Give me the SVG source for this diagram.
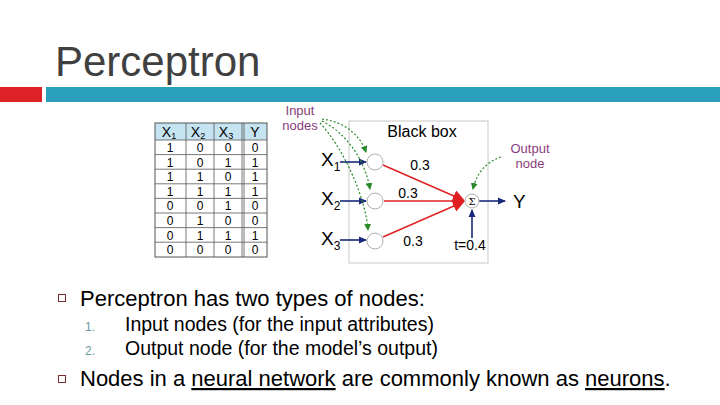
<svg xmlns="http://www.w3.org/2000/svg" width="720" height="405" viewBox="0 0 720 405">
<style>
.t{font-family:"Liberation Sans",Arial,sans-serif}
.title{font-size:42px;fill:#404040}
.cell{font-size:12px;fill:#000;text-anchor:middle}
.hdr{font-size:14px;fill:#000;text-anchor:middle}
.lbl{font-size:19px;fill:#000}
.w{font-size:14px;fill:#000;text-anchor:middle}
.purple{font-size:13px;fill:#8a3c7c;text-anchor:middle}
.body{font-size:22px;fill:#000}
.sub{font-size:19.5px;fill:#000}
.num{font-size:12px;fill:#6a9aa4}
.node{fill:#fff;stroke:#b0b0b0;stroke-width:1}
.blue{stroke:#1a2a7a;stroke-width:1.6;fill:none}
.red{stroke:#e02020;stroke-width:1.4;fill:none}
.green{stroke:#2a8a2a;stroke-width:1.2;fill:none;stroke-dasharray:2 2}
.grid{stroke:#555;stroke-width:0.8}
.bullet{fill:none;stroke:#7a3030;stroke-width:1}
</style>
<defs>
<marker id="ab" markerWidth="8" markerHeight="8" refX="7" refY="4" orient="auto" markerUnits="userSpaceOnUse"><path d="M0,0.5 L8,4 L0,7.5 Z" fill="#1a2a7a"/></marker>
<marker id="ag" markerWidth="7" markerHeight="7" refX="6" refY="3.5" orient="auto" markerUnits="userSpaceOnUse"><path d="M0,0 L7,3.5 L0,7 Z" fill="#2a8a2a"/></marker>
<marker id="ar" markerWidth="12" markerHeight="12" refX="10" refY="6" orient="auto" markerUnits="userSpaceOnUse"><path d="M0,0 L12,6 L0,12 Z" fill="#e02020"/></marker>
</defs>
<rect width="720" height="405" fill="#fff"/>
<text class="t title" x="55" y="76">Perceptron</text>
<rect x="0" y="87" width="42" height="15" fill="#dd2228"/>
<rect x="46" y="87" width="674" height="15" fill="#2aa0bc"/>

<g id="table">
<rect x="155" y="123" width="112" height="17" fill="#c6e3f2"/>
<rect x="155" y="123" width="112" height="134" fill="none" stroke="#555" stroke-width="1"/>
<g class="grid">
<line x1="186" y1="123" x2="186" y2="257"/>
<line x1="214" y1="123" x2="214" y2="257"/>
<line x1="242" y1="123" x2="242" y2="257"/>
<line x1="244" y1="123" x2="244" y2="257"/>
<line x1="155" y1="140" x2="267" y2="140"/>
<line x1="155" y1="154.6" x2="267" y2="154.6"/>
<line x1="155" y1="169.2" x2="267" y2="169.2"/>
<line x1="155" y1="183.8" x2="267" y2="183.8"/>
<line x1="155" y1="198.4" x2="267" y2="198.4"/>
<line x1="155" y1="213" x2="267" y2="213"/>
<line x1="155" y1="227.6" x2="267" y2="227.6"/>
<line x1="155" y1="242.2" x2="267" y2="242.2"/>
</g>
<text class="t hdr" x="169" y="137">X<tspan font-size="9" dy="2">1</tspan></text>
<text class="t hdr" x="198" y="137">X<tspan font-size="9" dy="2">2</tspan></text>
<text class="t hdr" x="226" y="137">X<tspan font-size="9" dy="2">3</tspan></text>
<text class="t hdr" x="255" y="137">Y</text>
<g class="t cell">
<text x="170" y="152">1</text><text x="200" y="152">0</text><text x="228" y="152">0</text><text x="255" y="152">0</text>
<text x="170" y="166.6">1</text><text x="200" y="166.6">0</text><text x="228" y="166.6">1</text><text x="255" y="166.6">1</text>
<text x="170" y="181.2">1</text><text x="200" y="181.2">1</text><text x="228" y="181.2">0</text><text x="255" y="181.2">1</text>
<text x="170" y="195.8">1</text><text x="200" y="195.8">1</text><text x="228" y="195.8">1</text><text x="255" y="195.8">1</text>
<text x="170" y="210.4">0</text><text x="200" y="210.4">0</text><text x="228" y="210.4">1</text><text x="255" y="210.4">0</text>
<text x="170" y="225">0</text><text x="200" y="225">1</text><text x="228" y="225">0</text><text x="255" y="225">0</text>
<text x="170" y="239.6">0</text><text x="200" y="239.6">1</text><text x="228" y="239.6">1</text><text x="255" y="239.6">1</text>
<text x="170" y="254.2">0</text><text x="200" y="254.2">0</text><text x="228" y="254.2">0</text><text x="255" y="254.2">0</text>
</g>
</g>

<g id="blackbox">
<rect x="349" y="121" width="139" height="142" fill="none" stroke="#c8c8c8" stroke-width="1"/>
<text class="t" x="422" y="137" font-size="16" text-anchor="middle">Black box</text>
</g>

<g id="connectors">
<line class="blue" x1="340" y1="162" x2="366" y2="162" marker-end="url(#ab)"/>
<line class="blue" x1="340" y1="201" x2="366" y2="201" marker-end="url(#ab)"/>
<line class="blue" x1="340" y1="240" x2="366" y2="240" marker-end="url(#ab)"/>
<line class="red" x1="383" y1="165" x2="463" y2="200" marker-end="url(#ar)"/>
<line class="red" x1="384" y1="201" x2="463" y2="201" stroke-width="2" marker-end="url(#ar)"/>
<line class="red" x1="383" y1="237" x2="463" y2="202" marker-end="url(#ar)"/>
<line class="blue" x1="479" y1="201" x2="505" y2="201" marker-end="url(#ab)"/>
<line class="blue" x1="472" y1="238" x2="472" y2="210" marker-end="url(#ab)"/>
<path class="green" d="M322,119 C345,122 360,135 366,152" marker-end="url(#ag)"/>
<path class="green" d="M322,121 C350,135 366,165 370,189" marker-end="url(#ag)"/>
<path class="green" d="M320,123 C345,150 366,200 368,230" marker-end="url(#ag)"/>
<path class="green" d="M501,157 C485,162 476,175 473,189" marker-end="url(#ag)"/>
</g>

<g id="input1"><circle class="node" cx="375" cy="162" r="8"/><text class="t lbl" x="321" y="166">X<tspan font-size="12" dy="5">1</tspan></text></g>
<g id="input2"><circle class="node" cx="375" cy="201" r="8"/><text class="t lbl" x="321" y="205">X<tspan font-size="12" dy="5">2</tspan></text></g>
<g id="input3"><circle class="node" cx="375" cy="241" r="8"/><text class="t lbl" x="321" y="245">X<tspan font-size="12" dy="5">3</tspan></text></g>
<g id="sum"><circle class="node" cx="472" cy="201" r="7"/><text x="472" y="205" font-family="DejaVu Serif,serif" font-size="10" text-anchor="middle">Σ</text></g>
<g id="output"><text class="t lbl" x="513" y="208">Y</text></g>
<g id="threshold"><text class="t" x="470" y="250" font-size="14" text-anchor="middle">t=0.4</text></g>
<g id="weights" class="t w">
<text x="420" y="170">0.3</text>
<text x="408" y="198">0.3</text>
<text x="413" y="246">0.3</text>
</g>
<g id="inputlabel" class="t purple"><text x="300" y="115">Input</text><text x="300" y="130">nodes</text></g>
<g id="outputlabel" class="t purple"><text x="530" y="153">Output</text><text x="530" y="168">node</text></g>

<g id="bullets">
<rect class="bullet" x="58.5" y="294.5" width="7" height="7"/>
<text class="t body" x="80" y="306">Perceptron has two types of nodes:</text>
<text class="t num" x="85" y="331">1.</text>
<text class="t sub" x="125" y="331">Input nodes (for the input attributes)</text>
<text class="t num" x="85" y="355">2.</text>
<text class="t sub" x="125" y="355">Output node (for the model’s output)</text>
<rect class="bullet" x="58.5" y="375.5" width="7" height="7"/>
<text class="t body" x="80" y="386">Nodes in a <tspan text-decoration="underline">neural network</tspan> are commonly known as <tspan text-decoration="underline">neurons</tspan>.</text>
</g>
</svg>
